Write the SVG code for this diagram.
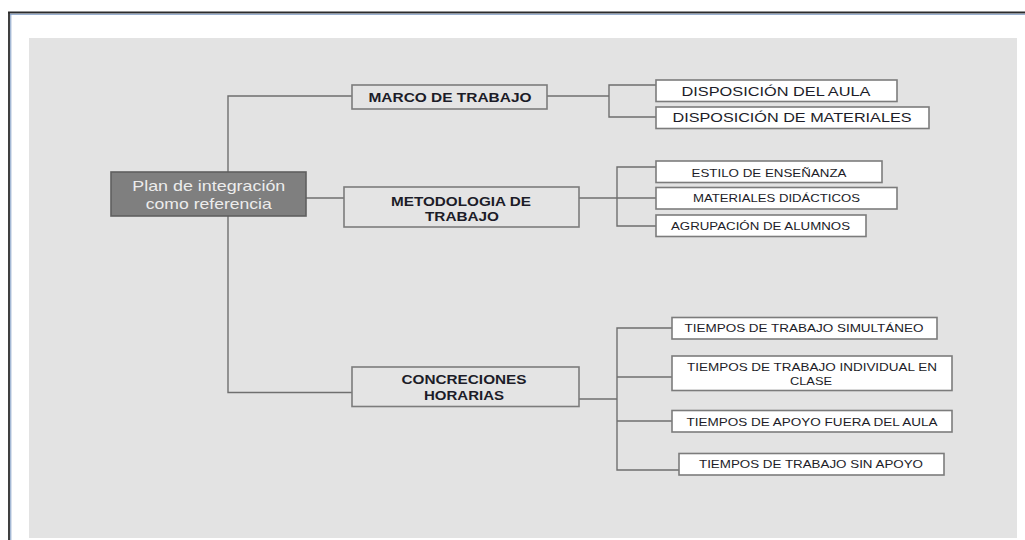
<svg xmlns="http://www.w3.org/2000/svg" width="1025" height="540" viewBox="0 0 1025 540">
<style>
.conn{fill:none;stroke:#6f6f6f;stroke-width:1.4}
.box{fill:#ffffff;stroke:#7c7c7c;stroke-width:1.6}
.main{fill:#e4e4e4;stroke:#7c7c7c;stroke-width:1.6}
.root{fill:#7f7f7f;stroke:#5f5f5f;stroke-width:1.6}
.t{font-family:"Liberation Sans",Arial,sans-serif;fill:#1c1c28;text-anchor:middle}
.s{font-size:11px}
.m{font-size:13px}
.b{font-size:12.5px;font-weight:bold}
.r{font-family:"Liberation Sans",Arial,sans-serif;font-size:14.5px;fill:#ececec;text-anchor:middle}
</style>
<rect x="0" y="0" width="1025" height="540" fill="#ffffff"/>
<rect x="29" y="38" width="988" height="500" fill="#e3e3e3"/>
<g id="frame">
<line x1="8" y1="12.5" x2="1025" y2="12.5" stroke="#2b2b2b" stroke-width="1.8"/>
<line x1="10" y1="14.3" x2="1025" y2="14.3" stroke="#7f9cc4" stroke-width="1"/>
<line x1="9" y1="12" x2="9" y2="540" stroke="#2b2b2b" stroke-width="1.8"/>
<line x1="10.8" y1="14" x2="10.8" y2="540" stroke="#7f9cc4" stroke-width="1"/>
</g>
<g id="connectors">
<path class="conn" d="M352,96 H228 V392.5 H352"/>
<path class="conn" d="M306,198 H344"/>
<path class="conn" d="M547,96 H609"/>
<path class="conn" d="M656,85 H609 V117 H656"/>
<path class="conn" d="M579,198 H656"/>
<path class="conn" d="M656,167 H617 V226 H656"/>
<path class="conn" d="M579,399 H617"/>
<path class="conn" d="M672,328 H617 V470 H679"/>
<path class="conn" d="M617,377 H672"/>
<path class="conn" d="M617,421 H672"/>
</g>
<g id="root">
<rect class="root" x="111" y="172" width="195" height="44"/>
<text class="r" x="208.8" y="191.3" textLength="153" lengthAdjust="spacingAndGlyphs">Plan de integración</text>
<text class="r" x="208.8" y="208.5" textLength="126" lengthAdjust="spacingAndGlyphs">como referencia</text>
</g>
<g id="marco">
<rect class="main" x="352" y="85" width="195" height="24"/>
<text class="t b" x="450" y="101.7" textLength="163" lengthAdjust="spacingAndGlyphs">MARCO DE TRABAJO</text>
</g>
<g id="metodologia">
<rect class="main" x="344" y="187" width="235" height="40"/>
<text class="t b" x="461" y="206" textLength="140" lengthAdjust="spacingAndGlyphs">METODOLOGIA DE</text>
<text class="t b" x="462" y="220.7" textLength="74" lengthAdjust="spacingAndGlyphs">TRABAJO</text>
</g>
<g id="concreciones">
<rect class="main" x="352" y="367" width="227" height="39.5"/>
<text class="t b" x="464" y="384.3" textLength="125" lengthAdjust="spacingAndGlyphs">CONCRECIONES</text>
<text class="t b" x="464" y="400" textLength="80" lengthAdjust="spacingAndGlyphs">HORARIAS</text>
</g>
<g id="disp-aula">
<rect class="box" x="656" y="80" width="241" height="21.5"/>
<text class="t m" x="776" y="96" textLength="189" lengthAdjust="spacingAndGlyphs">DISPOSICIÓN DEL AULA</text>
</g>
<g id="disp-materiales">
<rect class="box" x="656" y="107" width="273" height="21.5"/>
<text class="t m" x="792" y="121.7" textLength="239" lengthAdjust="spacingAndGlyphs">DISPOSICIÓN DE MATERIALES</text>
</g>
<g id="estilo">
<rect class="box" x="656" y="161" width="226" height="21.5"/>
<text class="t s" x="769" y="176.5" textLength="155" lengthAdjust="spacingAndGlyphs">ESTILO DE ENSEÑANZA</text>
</g>
<g id="materiales-didacticos">
<rect class="box" x="656" y="187.5" width="241" height="21.5"/>
<text class="t s" x="776.5" y="201.7" textLength="167" lengthAdjust="spacingAndGlyphs">MATERIALES DIDÁCTICOS</text>
</g>
<g id="agrupacion">
<rect class="box" x="656" y="215" width="210" height="21.5"/>
<text class="t s" x="760.5" y="230" textLength="179" lengthAdjust="spacingAndGlyphs">AGRUPACIÓN DE ALUMNOS</text>
</g>
<g id="tiempos-simultaneo">
<rect class="box" x="672" y="317.5" width="265" height="21.5"/>
<text class="t s" x="804" y="332.3" textLength="239" lengthAdjust="spacingAndGlyphs">TIEMPOS DE TRABAJO SIMULTÁNEO</text>
</g>
<g id="tiempos-individual">
<rect class="box" x="672" y="356" width="280" height="34.5"/>
<text class="t s" x="812" y="370.8" textLength="250" lengthAdjust="spacingAndGlyphs">TIEMPOS DE TRABAJO INDIVIDUAL EN</text>
<text class="t s" x="811" y="384.5" textLength="42" lengthAdjust="spacingAndGlyphs">CLASE</text>
</g>
<g id="tiempos-apoyo">
<rect class="box" x="672" y="410.5" width="280" height="21.5"/>
<text class="t s" x="812" y="425.7" textLength="251" lengthAdjust="spacingAndGlyphs">TIEMPOS DE APOYO FUERA DEL AULA</text>
</g>
<g id="tiempos-sin-apoyo">
<rect class="box" x="679" y="453.5" width="265" height="21.5"/>
<text class="t s" x="811" y="468.3" textLength="224" lengthAdjust="spacingAndGlyphs">TIEMPOS DE TRABAJO SIN APOYO</text>
</g>
</svg>
